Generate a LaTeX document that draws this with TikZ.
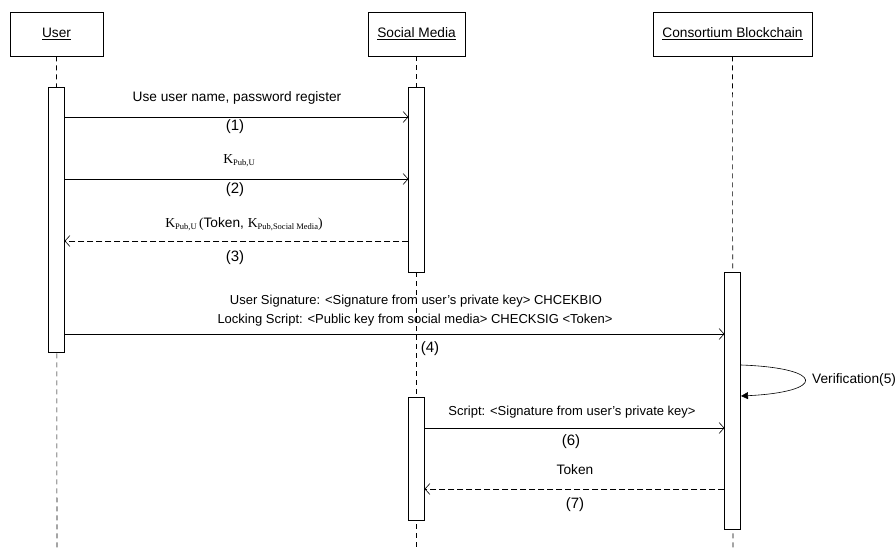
\documentclass[tikz,border=0pt]{standalone}
\usepackage{fontspec}
\setmainfont{Liberation Sans}
\newfontfamily\kfont{Liberation Serif}
\usetikzlibrary{arrows.meta}

% serif key with a lowered small subscript
\newcommand{\keysub}[1]{{\kfont K\raisebox{-0.35ex}{\fontsize{8.5}{9}\selectfont #1}}}
% straight apostrophe
\newcommand{\sq}{\char"27\relax}

\tikzset{
  actor/.style={draw, line width=0.6pt, minimum width=#1, minimum height=44pt, inner sep=0pt, font=\fontsize{13.7}{16}\selectfont},
  lifeline/.style={line width=0.6pt, dash pattern=on 5pt off 4pt},
  activation/.style={draw, fill=white, line width=0.6pt, minimum width=15.5pt, inner sep=0pt},
  msg/.style={line width=0.6pt, -{Straight Barb[length=5pt,width=11pt,line width=0.6pt]}},
  reply/.style={msg, dash pattern=on 6pt off 3pt},
  selfmsg/.style={line width=0.6pt, -{Triangle[length=7pt,width=7pt]}},
  lbl/.style={font=\fontsize{13.7}{16}\selectfont, inner sep=0pt},
  lblsmall/.style={font=\fontsize{13}{15}\selectfont, inner sep=0pt},
  num/.style={font=\fontsize{15}{17}\selectfont, inner sep=0pt},
}

\begin{document}
\begin{tikzpicture}[x=1pt, y=-1pt]
\useasboundingbox (0,0) rectangle (896,548);

% participants
\node[actor=93pt]  (user)  at (56.5,34)  {\underline{User}};
\node[actor=97pt]  (sm)    at (416.5,34) {\underline{Social Media}};
\node[actor=159pt] (cb)    at (732.5,34) {\underline{Consortium Blockchain}};

% lifeline ends
\coordinate (userend) at (57,548);
\coordinate (smend)   at (416.5,548);
\coordinate (cbend)   at (733,548);

\draw[lifeline] (user.south) -- (userend);
\draw[lifeline] (sm.south) -- (smend);
\draw[lifeline] (cb.south) -- (cbend);

% activation bars
\node[activation, minimum height=265pt] (ua)  at (56.5,219.5) {};
\node[activation, minimum height=185pt] (sa1) at (416.5,179.5) {};
\node[activation, minimum height=257pt] (ca)  at (732.5,400.5) {};
\node[activation, minimum height=123pt] (sa2) at (416.5,458.5) {};

% message heights
\coordinate (m1) at (0,117);
\coordinate (m2) at (0,179);
\coordinate (m3) at (0,241);
\coordinate (m4) at (0,334);
\coordinate (m6) at (0,428);
\coordinate (m7) at (0,489);

% (1)
\draw[msg] (ua.east |- m1) -- (sa1.west |- m1);
\node[lbl] (t1) at (237,98) {Use user name, password register};
\node[num] (n1) at (235,127) {(1)};

% (2)
\draw[msg] (ua.east |- m2) -- (sa1.west |- m2);
\node[lbl] (t2) at (239,161) {\keysub{Pub,U}};
\node[num] (n2) at (235,190) {(2)};

% (3)
\draw[reply] (sa1.west |- m3) -- (ua.east |- m3);
\node[lbl] (t3) at (244,224) {\keysub{Pub,U}\,{\kfont(}Token, \keysub{Pub,Social Media}{\kfont)}};
\node[num] (n3) at (235,258) {(3)};

% (4)
\draw[msg] (ua.east |- m4) -- (ca.west |- m4);
\node[lblsmall] (t4a) at (416,301) {User Signature: <Signature from user\sq s private key> CHCEKBIO};
\node[lblsmall] (t4b) at (415,320) {Locking Script: <Public key from social media> CHECKSIG <Token>};
\node[num] (n4) at (430,349) {(4)};

% (5) self call
\coordinate (s5a) at (741,365);
\coordinate (s5b) at (741,396);
\draw[selfmsg] (s5a) .. controls (826,368) and (826,392) .. (s5b);
\node[lbl, anchor=west] (t5) at (812,380) {Verification(5)};

% (6)
\draw[msg] (sa2.east |- m6) -- (ca.west |- m6);
\node[lblsmall] (t6) at (572,412) {Script: <Signature from user\sq s private key>};
\node[num] (n6) at (571,442) {(6)};

% (7)
\draw[reply] (ca.west |- m7) -- (sa2.east |- m7);
\node[lbl] (t7) at (575,470) {Token};
\node[num] (n7) at (575,505) {(7)};
\end{tikzpicture}
\end{document}
